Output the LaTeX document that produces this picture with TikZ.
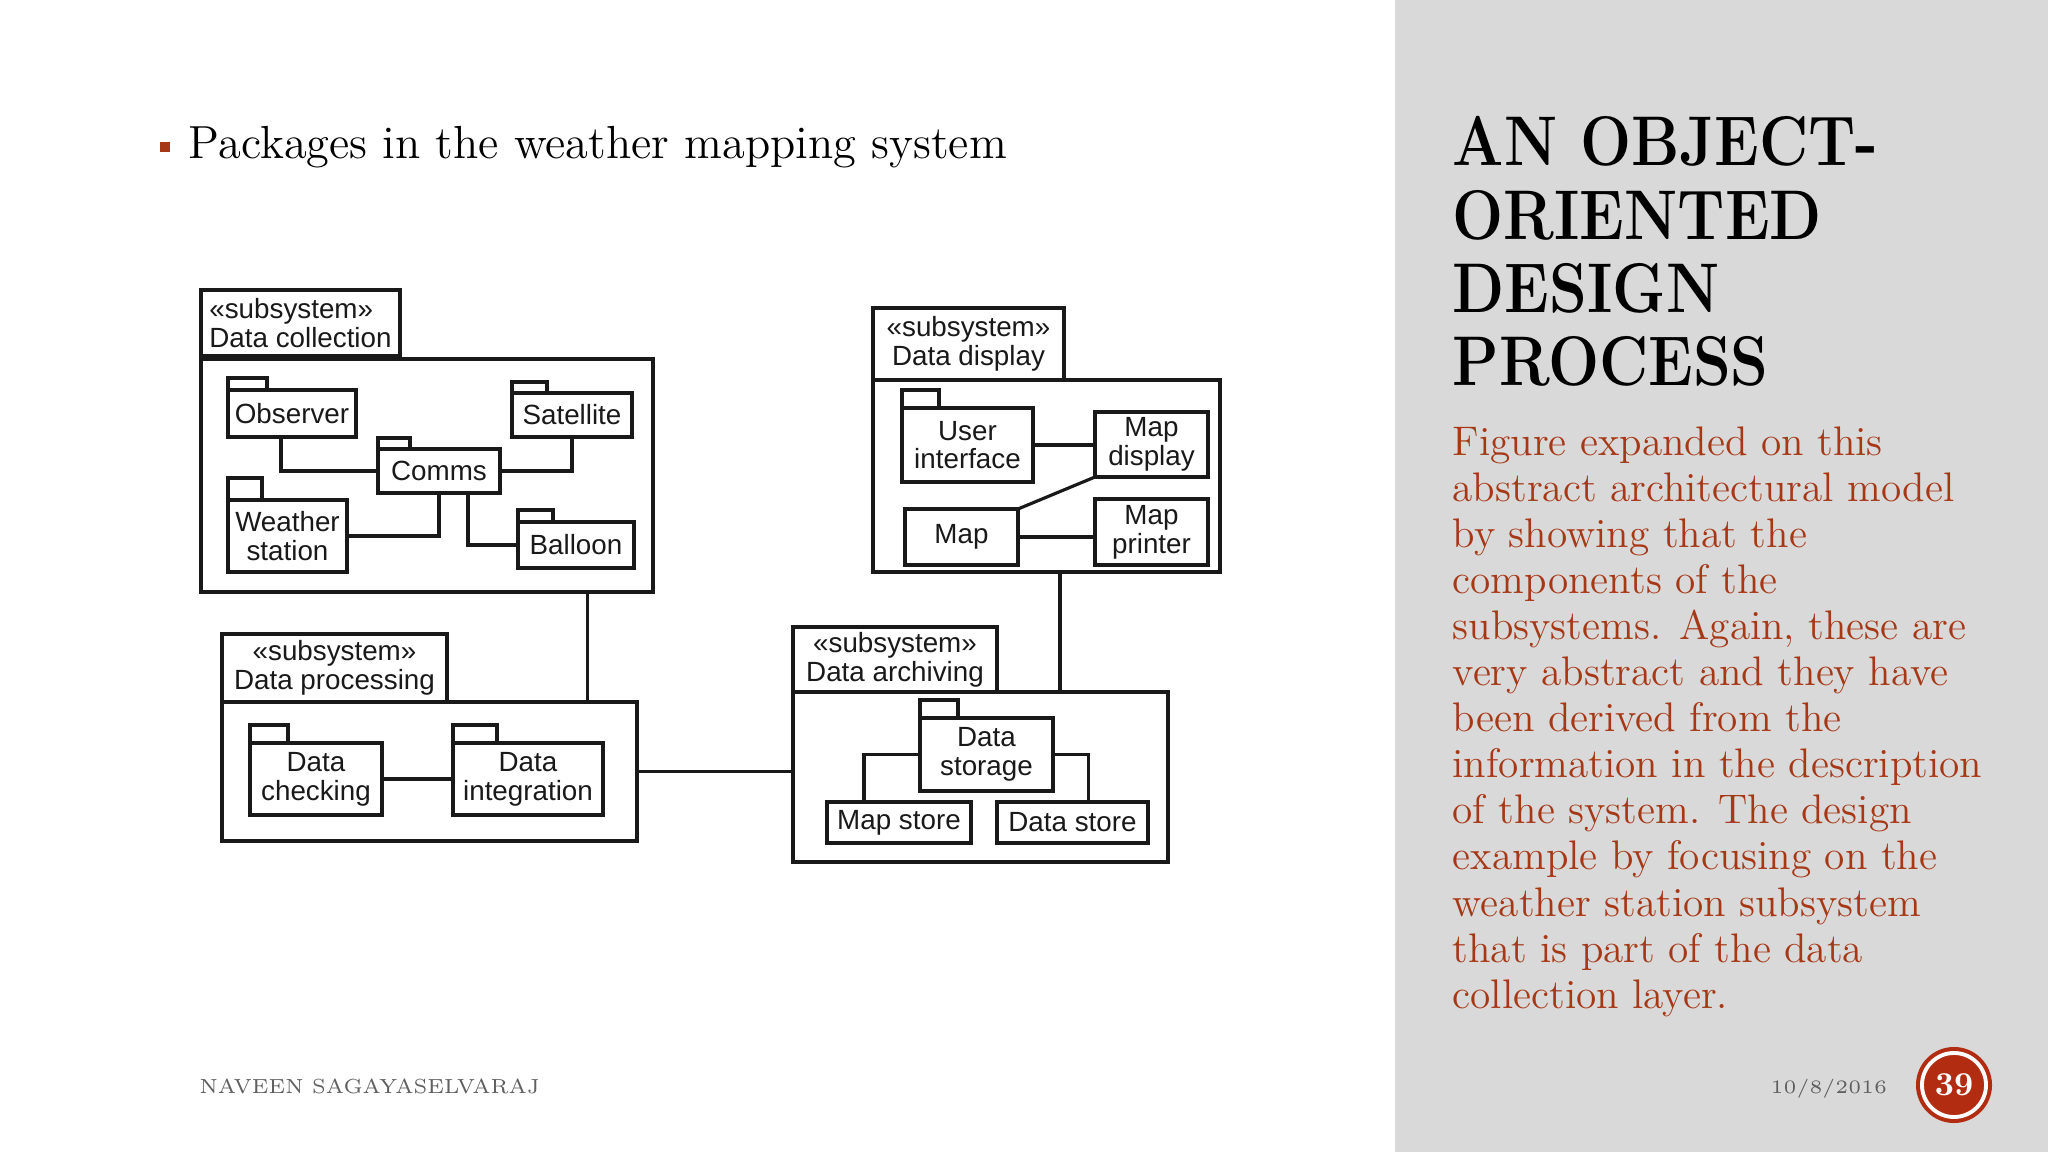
\documentclass[tikz,border=0pt]{standalone}
\usepackage{fontspec}
\usepackage{graphicx}
\usetikzlibrary{calc}

\newfontfamily\diagsf{Liberation Sans}
\newcommand{\titlenarrow}[1]{\scalebox{0.86}[1]{#1}}

\definecolor{panelgray}{RGB}{217,217,217}
\definecolor{rusttext}{RGB}{166,56,22}
\definecolor{pagered}{RGB}{178,44,18}
\definecolor{footgray}{RGB}{95,95,95}
\definecolor{inkline}{RGB}{25,25,25}

\begin{document}
\begin{tikzpicture}[x=0.01cm, y=-0.01cm,
    pkg/.style={draw=inkline, line width=0.9pt, inner sep=0pt, outer sep=0pt,
        align=center, text=inkline, font=\diagsf\fontsize{7.9}{8.2}\selectfont},
    subsys/.style={pkg, line width=1.1pt},
    wire/.style={draw=inkline, line width=0.9pt}]
    \useasboundingbox (0,0) rectangle (2048,1152);

    % 1. Nền trang: trắng bên trái, xám bên phải
    \fill[white] (0,0) rectangle (2048,1152);
    \fill[panelgray] (1395,0) rectangle (2048,1152);

    % 2. Dòng gạch đầu dòng
    \fill[rusttext] (160,142) rectangle (170,152);
    \node[anchor=base west, inner sep=0pt, font=\fontsize{13.2}{16}\selectfont] (heading) at (188,159)
        {Packages in the weather mapping system};

    % 3. Tiêu đề và đoạn văn bên phải
    \node[anchor=north west, inner sep=0pt, align=left, font=\fontsize{20}{20.8}\selectfont\bfseries] (title) at (1452,116)
        {\titlenarrow{AN OBJECT-}\\ \titlenarrow{ORIENTED}\\ \titlenarrow{DESIGN}\\ \titlenarrow{PROCESS}};
    \node[anchor=north west, inner sep=0pt, align=left, text=rusttext, font=\fontsize{11.75}{13.1}\selectfont] (blurb) at (1452,426)
        {Figure expanded on this\\ abstract architectural model\\ by showing that the\\ components of the\\
         subsystems. Again, these are\\ very abstract and they have\\ been derived from the\\
         information in the description\\ of the system. The design\\ example by focusing on the\\
         weather station subsystem\\ that is part of the data\\ collection layer.};

    % 4. Chân trang
    \node[anchor=base west, inner sep=0pt, text=footgray, font=\fontsize{5.8}{8}\selectfont] (author) at (199,1093) {NAVEEN SAGAYASELVARAJ};
    \node[anchor=base west, inner sep=0pt, text=footgray, font=\fontsize{5.4}{8}\selectfont] (date) at (1770,1093) {10/8/2016};
    \fill[pagered] (1954,1085) circle (0.38cm);
    \node[circle, fill=pagered, draw=white, line width=1.1pt, minimum size=0.64cm, inner sep=0pt,
        text=white, font=\fontsize{9.5}{10}\selectfont\bfseries] (pageno) at (1954,1085) {39};

    % 5. Gói Data collection
    \node[subsys, align=left, minimum width=1.99cm, minimum height=0.66cm] (dcLabel) at (300.5,323) {«subsystem»\\Data collection};
    \node[subsys, minimum width=4.52cm, minimum height=2.33cm] (dcBox) at (427,475.5) {};
    \node[pkg, minimum width=1.28cm, minimum height=0.47cm] (observer) at (292,413.5) {Observer};
    \node[pkg, minimum width=1.20cm, minimum height=0.44cm] (satellite) at (572,415) {Satellite};
    \node[pkg, minimum width=1.22cm, minimum height=0.44cm] (comms) at (439,471) {Comms};
    \node[pkg, minimum width=1.19cm, minimum height=0.72cm] (wstation) at (287.5,536) {Weather\\station};
    \node[pkg, minimum width=1.16cm, minimum height=0.46cm] (balloon) at (576,545) {Balloon};

    % 6. Gói Data display
    \node[subsys, minimum width=1.91cm, minimum height=0.72cm] (ddLabel) at (968.5,344) {«subsystem»\\Data display};
    \node[subsys, minimum width=3.47cm, minimum height=1.92cm] (ddBox) at (1046.5,476) {};
    \node[pkg, minimum width=1.31cm, minimum height=0.74cm] (uiface) at (967.5,445) {User\\interface};
    \node[pkg, minimum width=1.13cm, minimum height=0.65cm] (mapdisp) at (1151.5,444.5) {Map\\display};
    \node[pkg, minimum width=1.13cm, minimum height=0.56cm] (mapnode) at (961.5,537) {Map};
    \node[pkg, minimum width=1.13cm, minimum height=0.66cm] (mapprint) at (1151.5,532) {Map\\printer};

    % 7. Gói Data processing
    \node[subsys, minimum width=2.25cm, minimum height=0.68cm] (dpLabel) at (334.5,668) {«subsystem»\\Data processing};
    \node[subsys, minimum width=4.15cm, minimum height=1.39cm] (dpBox) at (429.5,771.5) {};
    \node[pkg, minimum width=1.32cm, minimum height=0.72cm] (dcheck) at (316,779) {Data\\checking};
    \node[pkg, minimum width=1.50cm, minimum height=0.72cm] (dinteg) at (528,779) {Data\\integration};

    % 8. Gói Data archiving
    \node[subsys, minimum width=2.04cm, minimum height=0.65cm] (daLabel) at (895,659.5) {«subsystem»\\Data archiving};
    \node[subsys, minimum width=3.75cm, minimum height=1.70cm] (daBox) at (980.5,777) {};
    \node[pkg, minimum width=1.33cm, minimum height=0.73cm] (dstorage) at (986.5,754.5) {Data\\storage};
    \node[pkg, minimum width=1.44cm, minimum height=0.41cm] (mapstore) at (899,822.5) {Map store};
    \node[pkg, minimum width=1.51cm, minimum height=0.41cm] (datastore) at (1072.5,822.5) {Data store};

    % 9. Tai của các gói
    \foreach \pk/\tw/\th in {observer/39/12, satellite/35/11, comms/32/11, wstation/34/22, balloon/35/12,
                             uiface/37/18, dcheck/38/18, dinteg/44/18, dstorage/38/18}
        \draw[wire] (\pk.north west) rectangle ++(\tw,-\th);

    % 10. Các đường nối bên trong
    \draw[wire] ($(observer.south)+(-11,0)$) |- (comms.west);
    \draw[wire] (comms.east) -| (satellite.south);
    \draw[wire] (comms.south) |- (wstation.east);
    \draw[wire] ($(comms.south)+(29,0)$) |- (balloon.west);
    \draw[wire] (uiface.east) -- (uiface.east -| mapdisp.west);
    \draw[wire] (mapnode.north east) -- (mapdisp.south west);
    \draw[wire] (mapnode.east) -- (mapnode.east -| mapprint.west);
    \draw[wire] (dcheck.east) -- (dcheck.east -| dinteg.west);
    \draw[wire] (dstorage.west) -| ($(mapstore.north)+(-35,0)$);
    \draw[wire] (dstorage.east) -| ($(datastore.north)+(16,0)$);

    % 11. Nối giữa các hệ con
    \draw[wire] ($(dcBox.south east)+(-66,0)$) coordinate (dcDrop) -- (dcDrop |- dpBox.north);
    \draw[wire] (dpBox.east) -- (dpBox.east -| daBox.west);
    \draw[wire] ($(ddBox.south)+(13.5,0)$) coordinate (ddDrop) -- (ddDrop |- daBox.north);

\end{tikzpicture}
\end{document}
